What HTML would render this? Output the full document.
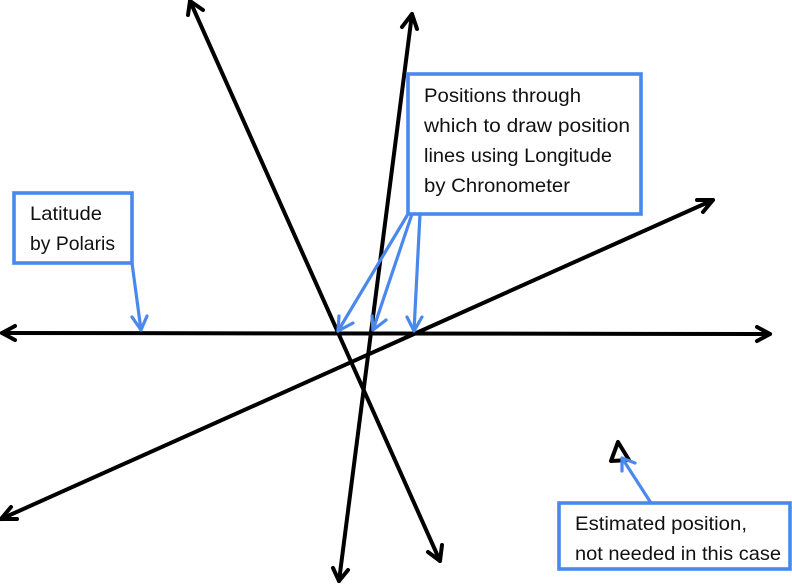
<!DOCTYPE html>
<html>
<head>
<meta charset="utf-8">
<style>
html,body{margin:0;padding:0;background:#fff;}
svg{display:block;}
text{font-family:"Liberation Sans",sans-serif;font-size:19.5px;fill:#111;}
</style>
</head>
<body>
<svg width="792" height="584" viewBox="0 0 792 584" xmlns="http://www.w3.org/2000/svg">
<rect width="792" height="584" fill="#fff"/>
<g fill="none" stroke="#000" stroke-width="4" stroke-linecap="round" stroke-linejoin="round">
  <path d="M2 333 L770 334"/>
  <path d="M15 326 L2 333 L15 340"/>
  <path d="M757 327 L770 334 L757 341"/>
  <path d="M190 1 L440 561"/>
  <path d="M188 15 L190 1 L203 10"/>
  <path d="M428 552 L440 561 L442 545"/>
  <path d="M412 14 L339 581"/>
  <path d="M402 27 L412 14 L417 29"/>
  <path d="M333 568 L339 581 L348 570"/>
  <path d="M1 519 L713 200"/>
  <path d="M11 507 L1 519 L17 519"/>
  <path d="M697 200 L713 200 L703 212"/>
  <path d="M618 442 L611 461 L629 460 Z"/>
</g>
<g fill="#fff" stroke="#4a88ec" stroke-width="3.6">
  <rect x="14" y="193" width="118" height="70"/>
  <rect x="408" y="74" width="233" height="140"/>
  <rect x="559" y="503" width="231" height="66"/>
</g>
<g fill="none" stroke="#4a88ec" stroke-width="3.2" stroke-linecap="round" stroke-linejoin="round">
  <path d="M132 263 L141 330"/>
  <path d="M132 317 L141 330 L147 316"/>
  <path d="M408 214 L338 331"/>
  <path d="M339 316 L338 331 L353 323"/>
  <path d="M412 214 L373 330"/>
  <path d="M372 316 L373 330 L386 320"/>
  <path d="M420 214 L414 331"/>
  <path d="M407 317 L414 331 L422 317"/>
  <path d="M651 503 L622 458"/>
  <path d="M622 471 L622 458 L635 463"/>
</g>
<text x="424" y="102" textLength="157" lengthAdjust="spacingAndGlyphs">Positions through</text>
<text x="424" y="132" textLength="206" lengthAdjust="spacingAndGlyphs">which to draw position</text>
<text x="424" y="162" textLength="188" lengthAdjust="spacingAndGlyphs">lines using Longitude</text>
<text x="424" y="192" textLength="146" lengthAdjust="spacingAndGlyphs">by Chronometer</text>
<text x="30" y="220" textLength="72" lengthAdjust="spacingAndGlyphs">Latitude</text>
<text x="30" y="250" textLength="85" lengthAdjust="spacingAndGlyphs">by Polaris</text>
<text x="575" y="530" textLength="172" lengthAdjust="spacingAndGlyphs">Estimated position,</text>
<text x="575" y="560" textLength="206" lengthAdjust="spacingAndGlyphs">not needed in this case</text>
</svg>
</body>
</html>
